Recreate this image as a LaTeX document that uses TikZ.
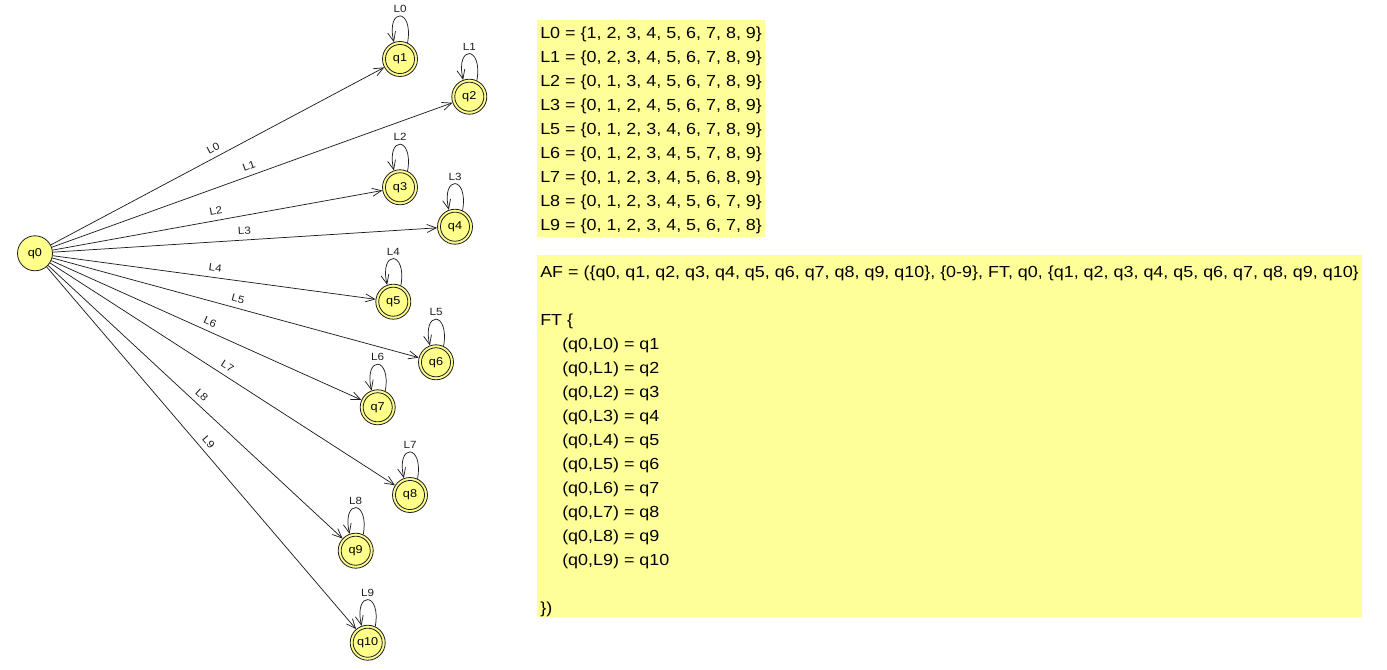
\documentclass[tikz,border=0pt]{standalone}
\usepackage{fontspec}
\setmainfont[FakeStretch=1.12]{Liberation Sans}
\usetikzlibrary{arrows.meta}
\definecolor{blocky}{HTML}{FFFF99}
\definecolor{statey}{HTML}{FFFF8C}
\definecolor{ink}{HTML}{1E1E1E}
\begin{document}
\begin{tikzpicture}[x=0.75pt,y=-0.75pt,
  state/.style={circle,draw=ink,fill=statey,line width=0.6pt,minimum size=26.25pt,inner sep=0pt,font=\fontsize{8.5pt}{9pt}\selectfont},
  arr/.style={draw=ink,line width=0.55pt,-{Straight Barb[length=7pt,width=6pt]}},
  elab/.style={font=\fontsize{7.8pt}{8pt}\selectfont,inner sep=1.5pt,text=ink},
  txt/.style={anchor=base west,inner sep=0pt,font=\fontsize{12pt}{14pt}\selectfont}]
\useasboundingbox (0,0) rectangle (1387,670);
% text blocks
\fill[blocky] (537,20) rectangle (765,237);
\fill[blocky] (537,255) rectangle (1362,617);
\node[txt] (s0) at (540,38.7) {L0 = \{1, 2, 3, 4, 5, 6, 7, 8, 9\}};
\node[txt] (s1) at (540,62.7) {L1 = \{0, 2, 3, 4, 5, 6, 7, 8, 9\}};
\node[txt] (s2) at (540,86.7) {L2 = \{0, 1, 3, 4, 5, 6, 7, 8, 9\}};
\node[txt] (s3) at (540,110.7) {L3 = \{0, 1, 2, 4, 5, 6, 7, 8, 9\}};
\node[txt] (s5) at (540,134.7) {L5 = \{0, 1, 2, 3, 4, 6, 7, 8, 9\}};
\node[txt] (s6) at (540,158.7) {L6 = \{0, 1, 2, 3, 4, 5, 7, 8, 9\}};
\node[txt] (s7) at (540,182.7) {L7 = \{0, 1, 2, 3, 4, 5, 6, 8, 9\}};
\node[txt] (s8) at (540,206.7) {L8 = \{0, 1, 2, 3, 4, 5, 6, 7, 9\}};
\node[txt] (s9) at (540,230.7) {L9 = \{0, 1, 2, 3, 4, 5, 6, 7, 8\}};
\node[txt] (af) at (540,277.7) {AF = (\{q0, q1, q2, q3, q4, q5, q6, q7, q8, q9, q10\}, \{0-9\}, FT, q0, \{q1, q2, q3, q4, q5, q6, q7, q8, q9, q10\}};
\node[txt] (ft) at (540,325.7) {FT \{};
\node[txt] (t0) at (562,349.7) {(q0,L0) = q1};
\node[txt] (t1) at (562,373.7) {(q0,L1) = q2};
\node[txt] (t2) at (562,397.7) {(q0,L2) = q3};
\node[txt] (t3) at (562,421.7) {(q0,L3) = q4};
\node[txt] (t4) at (562,445.7) {(q0,L4) = q5};
\node[txt] (t5) at (562,469.7) {(q0,L5) = q6};
\node[txt] (t6) at (562,493.7) {(q0,L6) = q7};
\node[txt] (t7) at (562,517.7) {(q0,L7) = q8};
\node[txt] (t8) at (562,541.7) {(q0,L8) = q9};
\node[txt] (t9) at (562,565.7) {(q0,L9) = q10};
\node[txt] (end) at (540,613.7) {\})};
% states
\node[state] (q0) at (35,253.3) {q0};
\node[state] (q1) at (400,59) {q1};
\node[state] (q2) at (469.3,96.7) {q2};
\node[state] (q3) at (400,187.3) {q3};
\node[state] (q4) at (455,226.7) {q4};
\node[state] (q5) at (393.3,301.7) {q5};
\node[state] (q6) at (436,362.3) {q6};
\node[state] (q7) at (377.7,407.3) {q7};
\node[state] (q8) at (410,495) {q8};
\node[state] (q9) at (355.7,550.7) {q9};
\node[state] (q10) at (367.7,642.7) {q10};
\foreach \n in {q1,q2,q3,q4,q5,q6,q7,q8,q9,q10}
  \draw[ink,line width=0.6pt] (\n.center) circle[radius=10.9pt];
% transitions
\foreach \n/\l in {q1/L0,q2/L1,q3/L2,q4/L3,q5/L4,q6/L5,q7/L6,q8/L7,q9/L8,q10/L9}{
  \draw[arr] (q0) -- node[elab,sloped,above=2.5pt,midway] (e\n) {\l} (\n);
  \draw[arr] (\n.65) .. controls +(80:27pt) and +(103:27pt) .. (\n.110);
  \node[elab] (lp\n) at ([yshift=37.5pt]\n.center) {\l};
}
\end{tikzpicture}
\end{document}
